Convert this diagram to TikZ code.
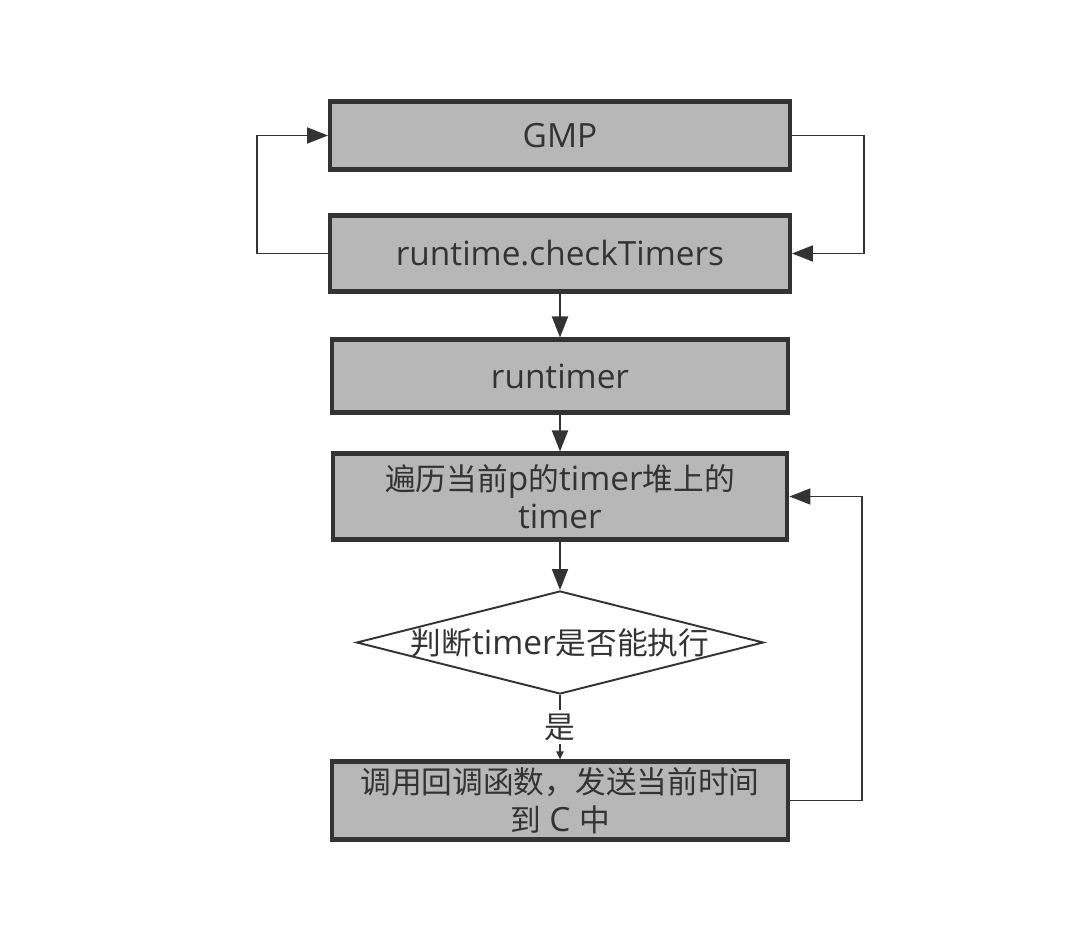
\documentclass[tikz,border=0pt]{standalone}
\usepackage{fontspec}
\setmainfont{Open Sans}
\newfontfamily\cjk[Scale=0.92]{Noto Sans CJK SC}
\usetikzlibrary{shapes.geometric,arrows.meta}
\definecolor{boxgray}{HTML}{B7B7B7}
\definecolor{ink}{HTML}{333333}

\begin{document}
\begin{tikzpicture}
[x=0.02cm, y=-0.02cm, font=\fontsize{19}{21.8}\selectfont, text=ink]
\tikzset{
	block/.style = {rectangle, draw=ink, fill=boxgray, line width=2.3pt, inner sep=0pt, align=center},
	decision/.style = {diamond, draw=ink, fill=white, line width=1.1pt, inner xsep=-4pt, inner ysep=0pt, aspect=4},
	link/.style = {draw=ink, line width=1.1pt, -{Triangle[length=0.42cm, width=0.32cm]}}
}
\useasboundingbox (0,0) rectangle (1086,932);

\node (gmp) [block, minimum width=9.2cm, minimum height=1.36cm] at (560,135.5) {GMP};
\node (check) [block, minimum width=9.2cm, minimum height=1.52cm] at (560,253.5) {runtime.checkTimers};
\node (run) [block, minimum width=9.12cm, minimum height=1.46cm] at (560,376) {runtimer};
\node (trav) [block, minimum width=9.1cm, minimum height=1.72cm] at (560,496.5)
	{{\cjk 遍历当前}p{\cjk 的}timer{\cjk 堆上的}\\timer};
\node (dec) [decision, minimum width=8.14cm, minimum height=2.06cm] at (560,642.5)
	{{\cjk 判断}timer{\cjk 是否能执行}};
\node (call) [block, minimum width=9.12cm, minimum height=1.56cm] at (560,800.5)
	{{\cjk 调用回调函数，发送当前时间}\\{\cjk 到} C {\cjk 中}};

% loop round GMP and checkTimers
\draw [link] (check.west) -- ++(-71,0) |- (gmp.west);
\draw [link] (gmp.east) -- ++(72,0) |- (check.east);

% main flow
\draw [link] (check) -- (run);
\draw [link] (run) -- (trav);
\draw [link] (trav) -- (dec);
\draw [link, -{Triangle[length=0.16cm, width=0.14cm]}] (dec) -- (call)
	node [midway, fill=white, inner sep=2pt] {\cjk 是};

% back to the timer heap
\draw [link] (call.east) -- ++(72,0) |- (trav.east);
\end{tikzpicture}
\end{document}
